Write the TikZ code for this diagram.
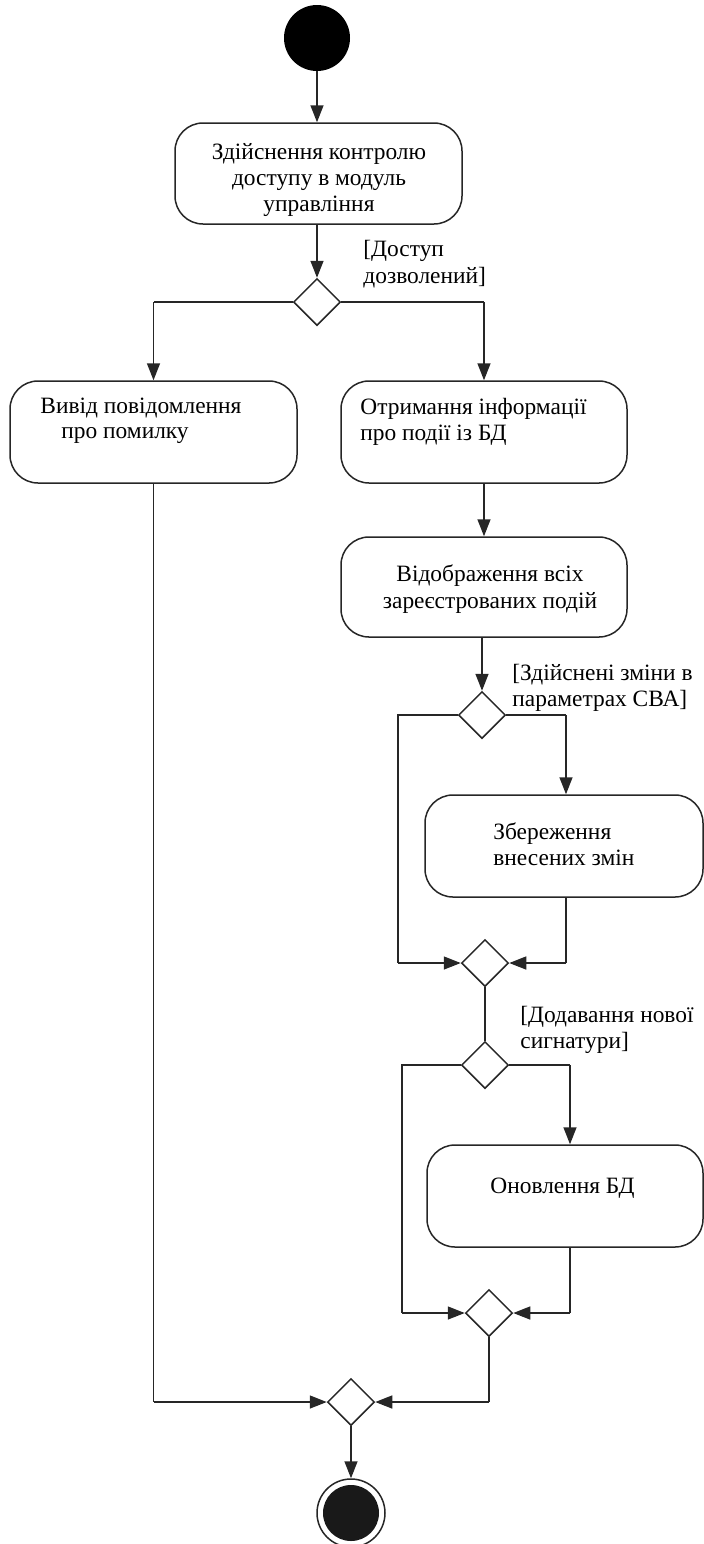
\documentclass[tikz,border=0pt]{standalone}
\usepackage{fontspec}
\setmainfont{Liberation Serif}
\usetikzlibrary{shapes.geometric,arrows.meta}
\begin{document}
\begin{tikzpicture}[x=0.5pt,y=-0.5pt,
  line/.style={draw=black!85,line width=0.75pt},
  arr/.style={line,-{Triangle[length=8.5pt,width=6.5pt]}},
  actbox/.style={draw=black!85,line width=0.75pt,rounded corners=14pt,rectangle,inner sep=0pt},
  decision/.style={draw=black!85,line width=0.75pt,diamond,aspect=1,minimum size=23.5pt,inner sep=0pt,fill=white},
  txt/.style={inner sep=0pt,font=\fontsize{11.7}{13.2}\selectfont},
  guard/.style={txt,anchor=west,align=left}
]
\useasboundingbox (0,0) rectangle (704,1544);

% initial and final nodes
\node[circle,fill=black,minimum size=33pt,inner sep=0pt] (start) at (317,38) {};
\node[circle,draw=black!85,line width=0.75pt,minimum size=34pt,inner sep=0pt] (stop) at (351,1513) {};
\node[circle,fill=black!90,minimum size=28pt,inner sep=0pt] (stopin) at (351,1513) {};

% activities
\node[actbox,minimum width=143.5pt,minimum height=50.5pt] (b1) at (318.5,173.5) {};
\node[actbox,minimum width=143.5pt,minimum height=51pt] (b2) at (153.5,432) {};
\node[actbox,minimum width=143pt,minimum height=51pt] (b3) at (484,432) {};
\node[actbox,minimum width=143pt,minimum height=50pt] (b4) at (484,587) {};
\node[actbox,minimum width=139pt,minimum height=51pt] (b5) at (564,846) {};
\node[actbox,minimum width=138pt,minimum height=51pt] (b6) at (565,1196) {};

% activity texts
\node[txt,align=center] (t1) at (319,180) {Здійснення контролю\\доступу в модуль\\управління};
\node[txt,anchor=west] (t2a) at (40,408) {Вивід повідомлення};
\node[txt,anchor=west] (t2b) at (61,436) {про помилку};
\node[txt,anchor=west,align=left] (t3) at (360,422) {Отримання інформації\\про події із БД};
\node[txt,align=center] (t4) at (490,589) {Відображення всіх\\зареєстрованих подій};
\node[txt,anchor=west,align=left] (t5) at (493,844) {Збереження\\внесених змін};
\node[txt,anchor=west] (t6) at (490,1188) {Оновлення БД};

% decision and merge nodes
\node[decision] (d1) at (317,302) {};
\node[decision] (d2) at (482,715) {};
\node[decision] (d3) at (485,963) {};
\node[decision] (d4) at (485,1065) {};
\node[decision] (d5) at (489,1313) {};
\node[decision] (d6) at (351,1402) {};

% guards
\node[guard] (g1) at (363,264) {[Доступ\\дозволений]};
\node[guard] (g2) at (512,688) {[Здійснені зміни в\\параметрах СВА]};
\node[guard] (g3) at (520,1030) {[Додавання нової\\сигнатури]};

% bend points
\coordinate (c1l) at (153.5,302);
\coordinate (c1r) at (484,302);
\coordinate (c2l) at (398,715);
\coordinate (c2r) at (566,715);
\coordinate (c3r) at (566,963);
\coordinate (c4l) at (402,1065);
\coordinate (c4r) at (570,1065);
\coordinate (c5r) at (570,1313);
\coordinate (c6r) at (489,1402);
\coordinate (c6l) at (153.5,1402);

% flows
\draw[arr] (start) -- (start |- b1.north);
\draw[arr] (b1.south -| d1) -- (d1.north);
\draw[line] (d1.west) -- (c1l);
\draw[arr] (c1l) -- (b2.north);
\draw[line] (d1.east) -- (c1r);
\draw[arr] (c1r) -- (b3.north);
\draw[arr] (b3.south) -- (b4.north);
\draw[arr] (d2 |- b4.south) -- (d2.north);
\draw[line] (d2.west) -- (c2l) -- (c2l |- d3);
\draw[arr] (c2l |- d3) -- (d3.west);
\draw[line] (d2.east) -- (c2r);
\draw[arr] (c2r) -- (c2r |- b5.north);
\draw[line] (c2r |- b5.south) -- (c3r);
\draw[arr] (c3r) -- (d3.east);
\draw[line] (d3.south) -- (d4.north);
\draw[line] (d4.west) -- (c4l) -- (c4l |- d5);
\draw[arr] (c4l |- d5) -- (d5.west);
\draw[line] (d4.east) -- (c4r);
\draw[arr] (c4r) -- (c4r |- b6.north);
\draw[line] (c4r |- b6.south) -- (c5r);
\draw[arr] (c5r) -- (d5.east);
\draw[line] (d5.south) -- (c6r);
\draw[arr] (c6r) -- (d6.east);
\draw[line] (b2.south) -- (c6l);
\draw[arr] (c6l) -- (d6.west);
\draw[arr] (d6.south) -- (stop.north);
\end{tikzpicture}
\end{document}
